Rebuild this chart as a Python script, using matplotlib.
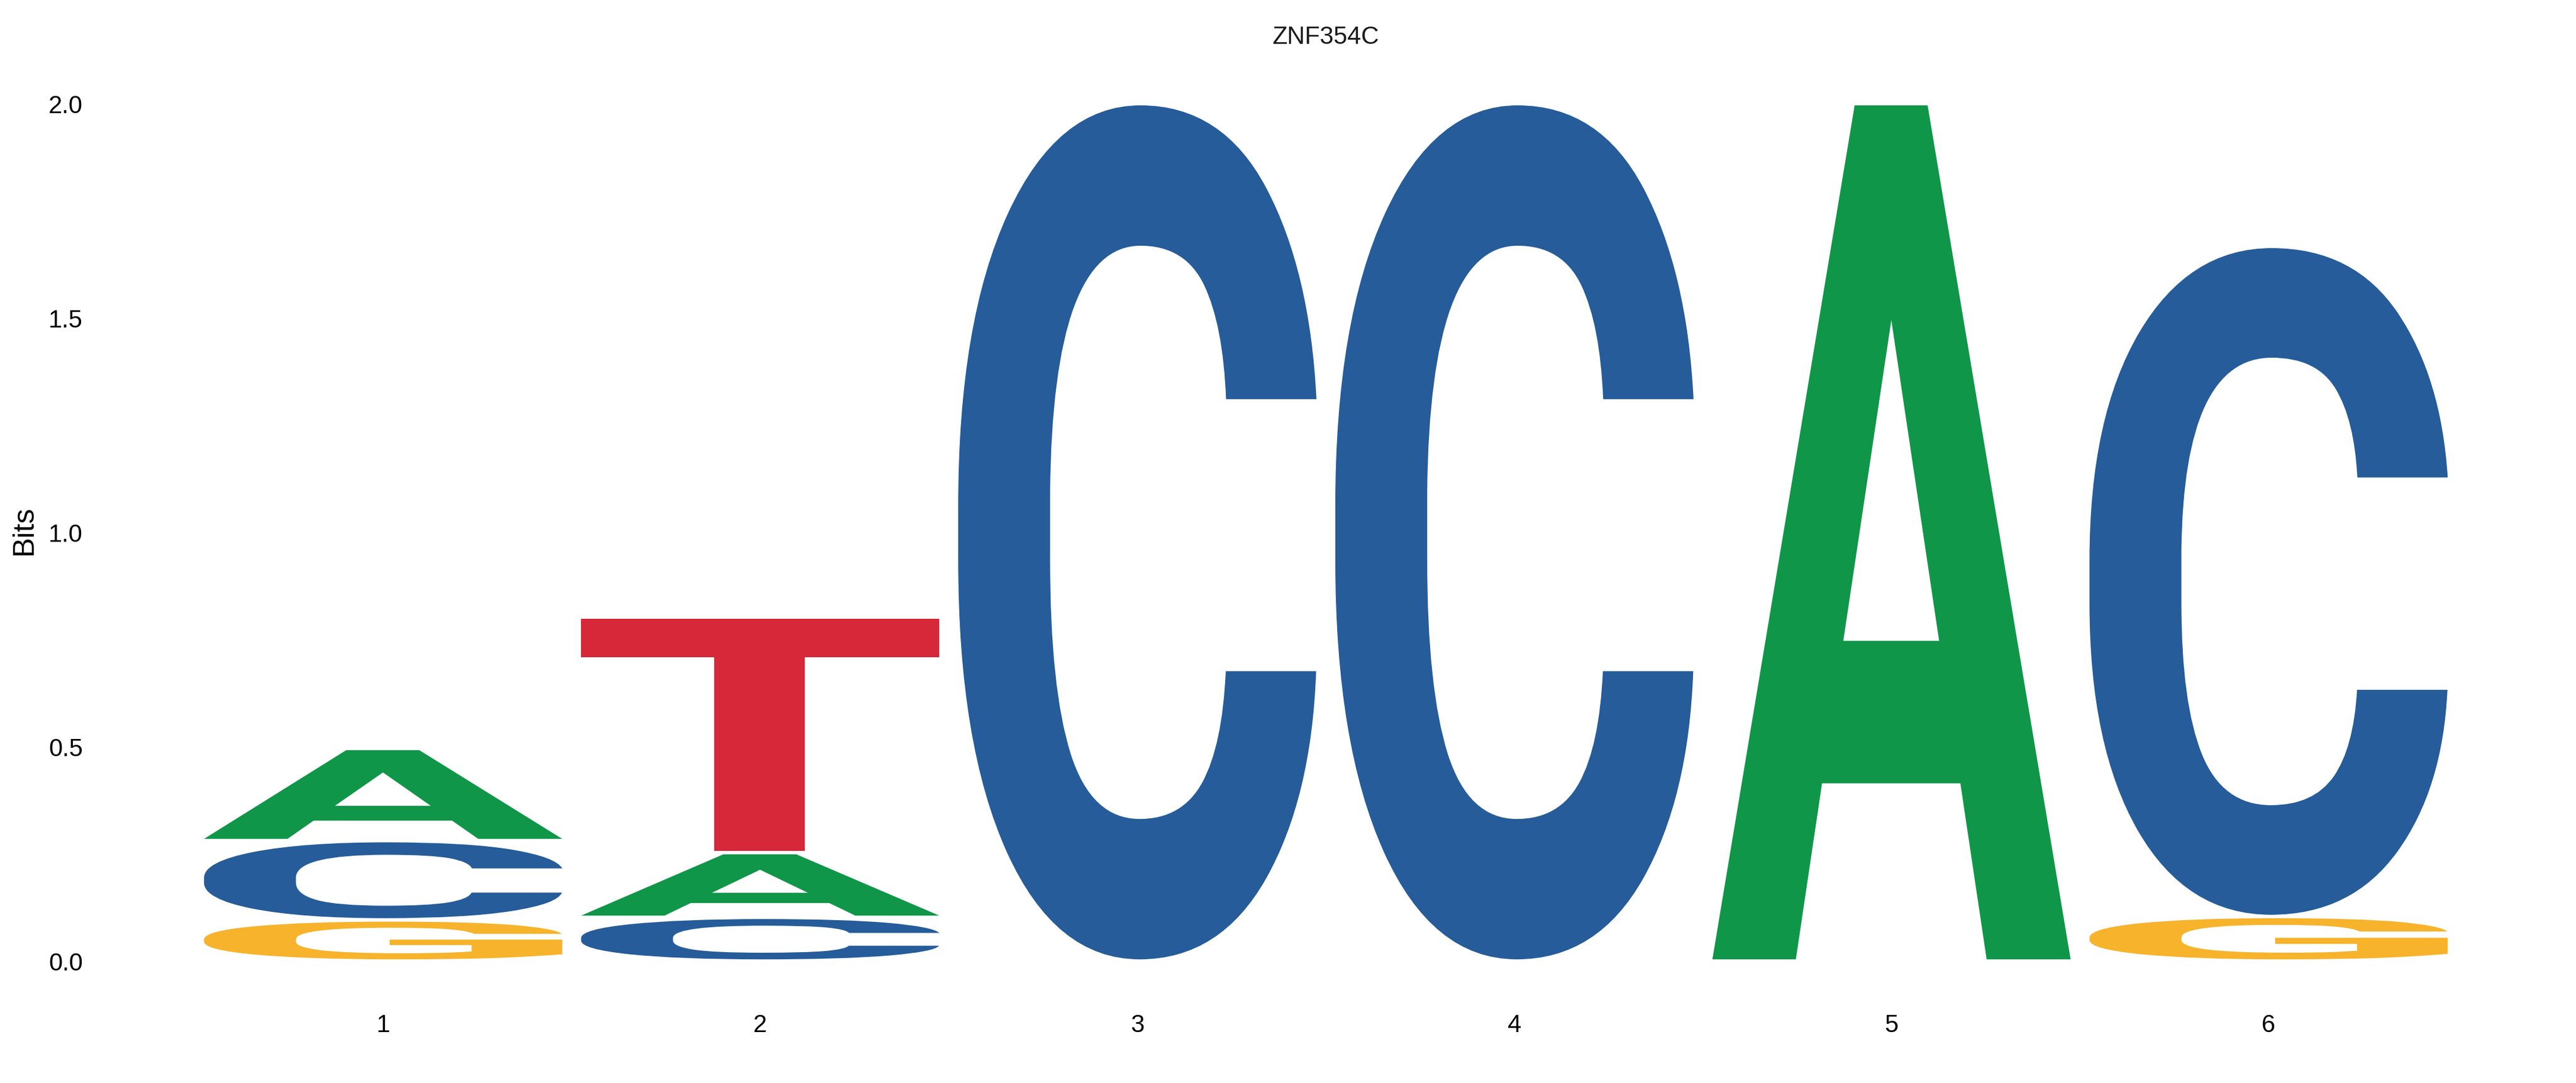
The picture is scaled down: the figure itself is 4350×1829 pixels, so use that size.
import numpy as np
import matplotlib
matplotlib.use("Agg")
from matplotlib import pyplot as plt
from matplotlib.textpath import TextPath
from matplotlib.patches import PathPatch
from matplotlib.font_manager import FontProperties
from matplotlib.transforms import Affine2D

# information content (bits) per letter at each motif position
positions = [1, 2, 3, 4, 5, 6]
bits_A = [0.215, 0.151, 0.0, 0.0, 2.0, 0.0]
bits_C = [0.185, 0.102, 2.0, 2.0, 0.0, 1.563]
bits_G = [0.096, 0.0, 0.0, 0.0, 0.0, 0.104]
bits_T = [0.0, 0.550, 0.0, 0.0, 0.0, 0.0]
yticks = [0.0, 0.5, 1.0, 1.5, 2.0]
title = "ZNF354C"

colors = {"A": "#109648", "C": "#255C99", "G": "#F7B32B", "T": "#D62839"}
letter_font = FontProperties(family="Roboto", weight="bold")
plt.rcParams['font.family'] = ['Liberation Sans', 'DejaVu Sans']


def draw_letter(ax, letter, x, y, w, h, pad=0.004):
    tp = TextPath((0, 0), letter, size=1, prop=letter_font)
    bb = tp.get_extents()
    gh = h - 2 * pad
    if gh <= 0:
        return
    tr = (Affine2D()
          .translate(-bb.x0, -bb.y0)
          .scale(w / bb.width, gh / bb.height)
          .translate(x - w / 2, y + pad))
    path = tr.transform_path(tp)
    ax.add_patch(PathPatch(path, facecolor=colors[letter], edgecolor="none", lw=0))


fig = plt.figure(figsize=(43.5, 18.29), dpi=100)
ax = fig.add_axes([0.0609, 0.0730, 0.9076, 0.8709])

table = {"A": bits_A, "C": bits_C, "G": bits_G, "T": bits_T}
for i, pos in enumerate(positions):
    stack = sorted([(table[k][i], k) for k in "ACGT" if table[k][i] > 0])
    y = 0.0
    for h, k in stack:
        draw_letter(ax, k, pos, y, 0.95, h)
        y += h

ax.set_xlim(0.4, 6.6)
ax.set_ylim(-0.1, 2.1)
ax.set_xticks(positions)
ax.set_xticklabels([str(p) for p in positions])
ax.set_yticks(yticks)
ax.set_yticklabels(["%.1f" % t for t in yticks])
ax.tick_params(axis="y", length=0, pad=90, labelsize=30)
ax.tick_params(axis="x", length=0, pad=12, labelsize=30)
for s in ax.spines.values():
    s.set_visible(False)

fig.text(41 / 4350, 0.5107, "Bits", rotation=90, ha="center", va="center", fontsize=36)
fig.text(0.5147, 0.9656, title, ha="center", va="center", fontsize=30, color="#1a1a1a")

plt.savefig("out.png", dpi=100, facecolor="white")
